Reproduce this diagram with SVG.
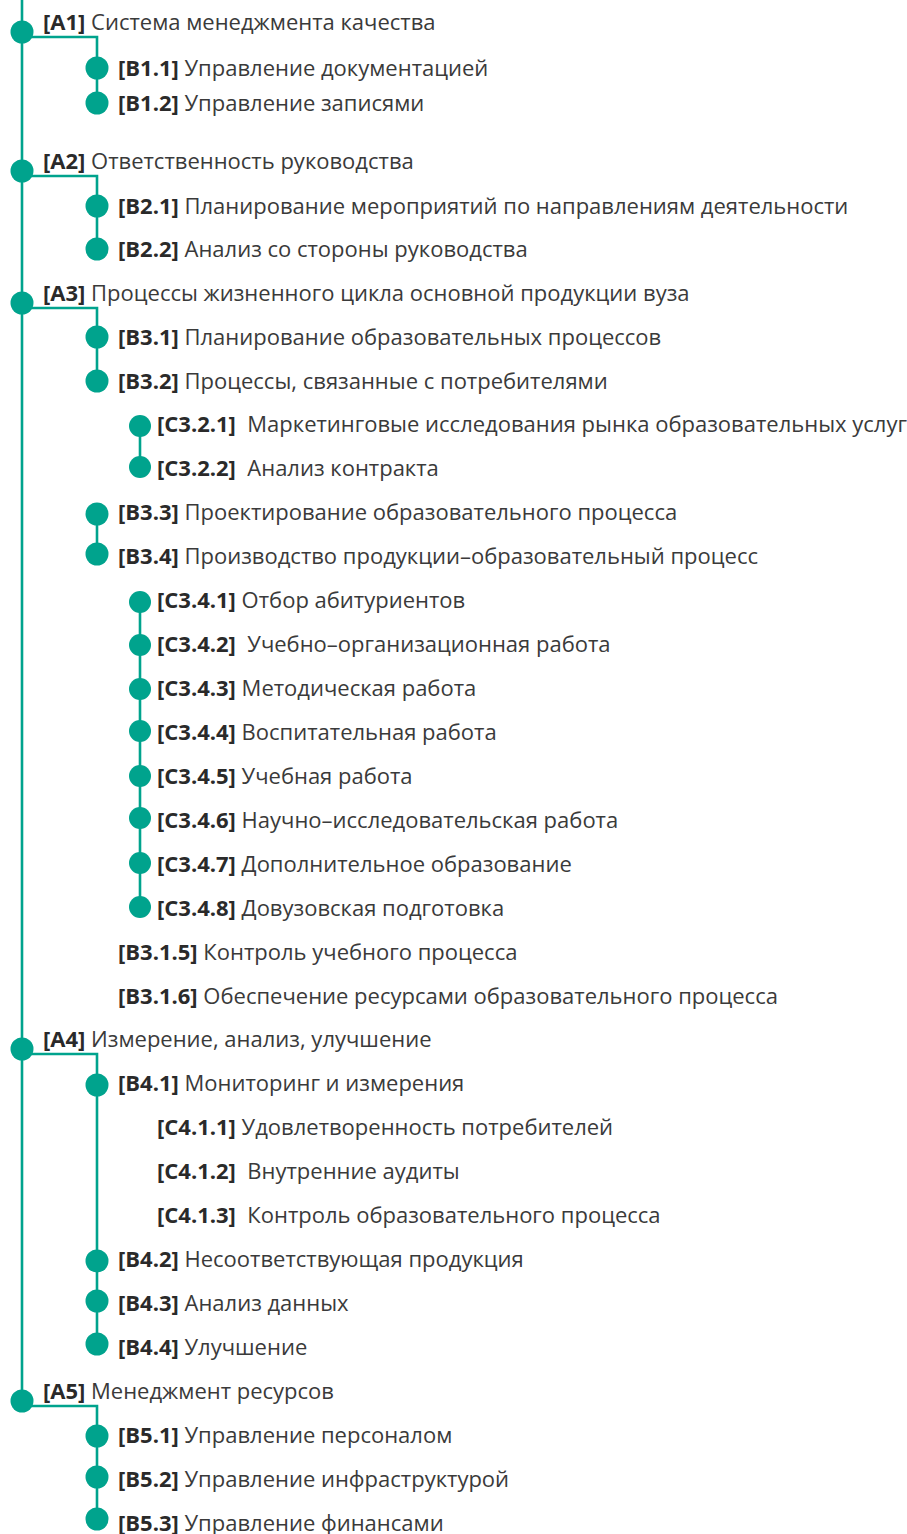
<svg xmlns="http://www.w3.org/2000/svg" width="907" height="1534" viewBox="0 0 907 1534">
<style>
.t{font-family:"Open Sans","Noto Sans",sans-serif;font-size:22px;fill:#3a3a3a;white-space:pre}
.b{font-weight:bold;fill:#2a2a2a}
.dot{fill:#00A38D}
.ln{stroke:#00A38D;stroke-width:2.6;fill:none}
</style>
<rect width="907" height="1534" fill="#ffffff"/>
<g id="connectors">
<path class="ln" d="M22 0 V1401"/>
<path class="ln" d="M22 37 H97 V103"/>
<path class="ln" d="M22 176 H97 V249"/>
<path class="ln" d="M22 308 H97 V381"/>
<path class="ln" d="M140 424 V468"/>
<path class="ln" d="M97 512 V556"/>
<path class="ln" d="M140 600 V908"/>
<path class="ln" d="M22 1054 H97 V1347"/>
<path class="ln" d="M22 1406 H97 V1523"/>
</g>
<g id="A1"><circle class="dot" cx="22" cy="32" r="11.5"/><text class="t" x="43" y="30"><tspan class="b">[A1]</tspan> Система менеджмента качества</text></g>
<g id="B1.1"><circle class="dot" cx="97" cy="68" r="11.5"/><text class="t" x="118" y="76"><tspan class="b">[B1.1]</tspan> Управление документацией</text></g>
<g id="B1.2"><circle class="dot" cx="97" cy="103" r="11.5"/><text class="t" x="118" y="111"><tspan class="b">[B1.2]</tspan> Управление записями</text></g>
<g id="A2"><circle class="dot" cx="22" cy="171" r="11.5"/><text class="t" x="43" y="169"><tspan class="b">[A2]</tspan> Ответственность руководства</text></g>
<g id="B2.1"><circle class="dot" cx="97" cy="206" r="11.5"/><text class="t" x="118" y="214"><tspan class="b">[B2.1]</tspan> Планирование мероприятий по направлениям деятельности</text></g>
<g id="B2.2"><circle class="dot" cx="97" cy="249" r="11.5"/><text class="t" x="118" y="257"><tspan class="b">[B2.2]</tspan> Анализ со стороны руководства</text></g>
<g id="A3"><circle class="dot" cx="22" cy="303" r="11.5"/><text class="t" x="43" y="301"><tspan class="b">[A3]</tspan> Процессы жизненного цикла основной продукции вуза</text></g>
<g id="B3.1"><circle class="dot" cx="97" cy="337" r="11.5"/><text class="t" x="118" y="345"><tspan class="b">[B3.1]</tspan> Планирование образовательных процессов</text></g>
<g id="B3.2"><circle class="dot" cx="97" cy="381" r="11.5"/><text class="t" x="118" y="389"><tspan class="b">[B3.2]</tspan> Процессы, связанные с потребителями</text></g>
<g id="C3.2.1"><circle class="dot" cx="140" cy="426" r="11"/><text class="t" x="157" y="432"><tspan class="b">[C3.2.1]</tspan>  Маркетинговые исследования рынка образовательных услуг</text></g>
<g id="C3.2.2"><circle class="dot" cx="140" cy="467" r="11"/><text class="t" x="157" y="476"><tspan class="b">[C3.2.2]</tspan>  Анализ контракта</text></g>
<g id="B3.3"><circle class="dot" cx="97" cy="514" r="11.5"/><text class="t" x="118" y="520"><tspan class="b">[B3.3]</tspan> Проектирование образовательного процесса</text></g>
<g id="B3.4"><circle class="dot" cx="97" cy="554" r="11.5"/><text class="t" x="118" y="564"><tspan class="b">[B3.4]</tspan> Производство продукции–образовательный процесс</text></g>
<g id="C3.4.1"><circle class="dot" cx="140" cy="602" r="11"/><text class="t" x="157" y="608"><tspan class="b">[C3.4.1]</tspan> Отбор абитуриентов</text></g>
<g id="C3.4.2"><circle class="dot" cx="140" cy="645" r="11"/><text class="t" x="157" y="652"><tspan class="b">[C3.4.2]</tspan>  Учебно–организационная работа</text></g>
<g id="C3.4.3"><circle class="dot" cx="140" cy="689" r="11"/><text class="t" x="157" y="696"><tspan class="b">[C3.4.3]</tspan> Методическая работа</text></g>
<g id="C3.4.4"><circle class="dot" cx="140" cy="731" r="11"/><text class="t" x="157" y="740"><tspan class="b">[C3.4.4]</tspan> Воспитательная работа</text></g>
<g id="C3.4.5"><circle class="dot" cx="140" cy="776" r="11"/><text class="t" x="157" y="784"><tspan class="b">[C3.4.5]</tspan> Учебная работа</text></g>
<g id="C3.4.6"><circle class="dot" cx="140" cy="818" r="11"/><text class="t" x="157" y="828"><tspan class="b">[C3.4.6]</tspan> Научно–исследовательская работа</text></g>
<g id="C3.4.7"><circle class="dot" cx="140" cy="863" r="11"/><text class="t" x="157" y="872"><tspan class="b">[C3.4.7]</tspan> Дополнительное образование</text></g>
<g id="C3.4.8"><circle class="dot" cx="140" cy="907" r="11"/><text class="t" x="157" y="916"><tspan class="b">[C3.4.8]</tspan> Довузовская подготовка</text></g>
<g id="B3.1.5"><text class="t" x="118" y="960"><tspan class="b">[B3.1.5]</tspan> Контроль учебного процесса</text></g>
<g id="B3.1.6"><text class="t" x="118" y="1004"><tspan class="b">[B3.1.6]</tspan> Обеспечение ресурсами образовательного процесса</text></g>
<g id="A4"><circle class="dot" cx="22" cy="1049" r="11.5"/><text class="t" x="43" y="1047"><tspan class="b">[A4]</tspan> Измерение, анализ, улучшение</text></g>
<g id="B4.1"><circle class="dot" cx="97" cy="1085" r="11.5"/><text class="t" x="118" y="1091"><tspan class="b">[B4.1]</tspan> Мониторинг и измерения</text></g>
<g id="C4.1.1"><text class="t" x="157" y="1135"><tspan class="b">[C4.1.1]</tspan> Удовлетворенность потребителей</text></g>
<g id="C4.1.2"><text class="t" x="157" y="1179"><tspan class="b">[C4.1.2]</tspan>  Внутренние аудиты</text></g>
<g id="C4.1.3"><text class="t" x="157" y="1223"><tspan class="b">[C4.1.3]</tspan>  Контроль образовательного процесса</text></g>
<g id="B4.2"><circle class="dot" cx="97" cy="1261" r="11.5"/><text class="t" x="118" y="1267"><tspan class="b">[B4.2]</tspan> Несоответствующая продукция</text></g>
<g id="B4.3"><circle class="dot" cx="97" cy="1301" r="11.5"/><text class="t" x="118" y="1311"><tspan class="b">[B4.3]</tspan> Анализ данных</text></g>
<g id="B4.4"><circle class="dot" cx="97" cy="1344" r="11.5"/><text class="t" x="118" y="1355"><tspan class="b">[B4.4]</tspan> Улучшение</text></g>
<g id="A5"><circle class="dot" cx="22" cy="1401" r="11.5"/><text class="t" x="43" y="1399"><tspan class="b">[A5]</tspan> Менеджмент ресурсов</text></g>
<g id="B5.1"><circle class="dot" cx="97" cy="1436" r="11.5"/><text class="t" x="118" y="1443"><tspan class="b">[B5.1]</tspan> Управление персоналом</text></g>
<g id="B5.2"><circle class="dot" cx="97" cy="1477" r="11.5"/><text class="t" x="118" y="1487"><tspan class="b">[B5.2]</tspan> Управление инфраструктурой</text></g>
<g id="B5.3"><circle class="dot" cx="97" cy="1519" r="11.5"/><text class="t" x="118" y="1531"><tspan class="b">[B5.3]</tspan> Управление финансами</text></g>
</svg>
